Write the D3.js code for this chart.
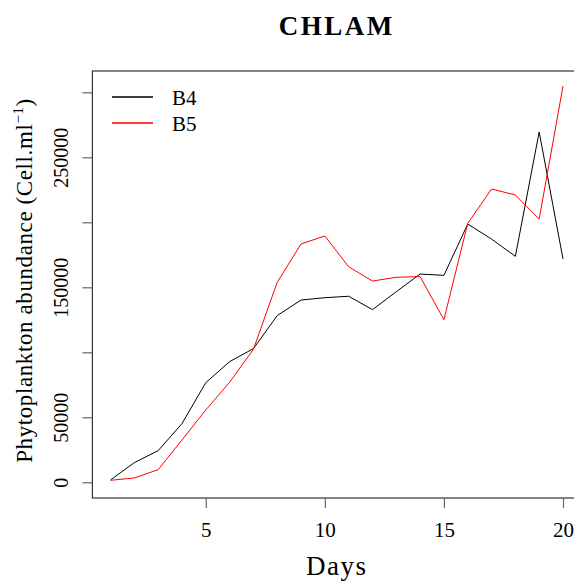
<!DOCTYPE html>
<html>
<head>
<meta charset="utf-8">
<script src="https://cdn.jsdelivr.net/npm/d3@7"></script>
<style>
  body { margin: 0; background: #fff; }
  svg { display: block; }
  text { font-family: "Liberation Serif", "DejaVu Serif", serif; fill: #000; }
</style>
</head>
<body>
<div id="chart"></div>
<script>
const days = d3.range(1, 21);
const b4 = [1800, 15100, 24300, 45100, 76600, 92800, 102800, 128200, 140200, 142000,
            143100, 132800, 146600, 160200, 159200, 198700, 187100, 173800, 269500, 171800];
const b5 = [1500, 3300, 9700, 32500, 55600, 76900, 102300, 153800, 183300, 189500,
            165800, 154800, 157700, 158200, 125100, 199200, 225600, 221000, 202500, 304800];
const x_ticks = [5, 10, 15, 20];
const y_ticks = [0, 50000, 100000, 150000, 200000, 250000, 300000];
const y_labels = [0, 50000, 150000, 250000];
const series_names = ["B4", "B5"];
const series_colors = ["#000000", "#ff0000"];
const series_values = [b4, b5];

const width = 574, height = 581;
const plot = { left: 92.4, right: 581.1, top: 71, bottom: 498 };

const svg = d3.select("#chart").append("svg")
    .attr("width", width)
    .attr("height", height);

// R style: data range padded by 4%
const x = d3.scaleLinear().domain([0.24, 20.76]).range([plot.left, plot.right]);
const y = d3.scaleLinear().domain([-12100, 316400]).range([plot.bottom, plot.top]);

const line = d3.line()
    .x(function(d, i) { return x(days[i]); })
    .y(function(d) { return y(d); });

svg.selectAll("path.series")
    .data(series_values)
  .enter().append("path")
    .attr("class", "series")
    .attr("d", function(d) { return line(d); })
    .attr("fill", "none")
    .attr("stroke", function(d, i) { return series_colors[i]; })
    .attr("stroke-width", 1);

// box
svg.append("rect")
    .attr("x", plot.left)
    .attr("y", plot.top)
    .attr("width", plot.right - plot.left)
    .attr("height", plot.bottom - plot.top)
    .attr("fill", "none")
    .attr("stroke", "#333")
    .attr("stroke-width", 1.2);

// x axis
const xAxis = d3.axisBottom(x).tickValues(x_ticks).tickSize(10).tickPadding(14);
const gx = svg.append("g")
    .attr("transform", "translate(0," + plot.bottom + ")")
    .call(xAxis);
gx.select(".domain").remove();
gx.selectAll(".tick line").attr("stroke", "#666").attr("stroke-width", 1.2);
gx.selectAll(".tick text")
    .attr("font-family", "Liberation Serif")
    .attr("font-size", 21)
    .attr("fill", "#000");

// y axis, labels rotated like R's las=0
const yAxis = d3.axisLeft(y).tickValues(y_ticks).tickSize(10)
    .tickFormat(function(d) { return y_labels.includes(d) ? d : ""; });
const gy = svg.append("g")
    .attr("transform", "translate(" + plot.left + ",0)")
    .call(yAxis);
gy.select(".domain").remove();
gy.selectAll(".tick line").attr("stroke", "#666").attr("stroke-width", 1.2);
gy.selectAll(".tick text")
    .attr("font-family", "Liberation Serif")
    .attr("font-size", 20)
    .attr("fill", "#000")
    .attr("x", 0)
    .attr("dy", 0)
    .attr("text-anchor", "middle")
    .attr("transform", "translate(-24,0) rotate(-90)");

// title
svg.append("text")
    .attr("x", (plot.left + plot.right) / 2)
    .attr("y", 35)
    .attr("text-anchor", "middle")
    .attr("font-size", 27)
    .attr("font-weight", "bold")
    .attr("letter-spacing", 2.5)
    .text("CHLAM");

// x label
svg.append("text")
    .attr("x", (plot.left + plot.right) / 2)
    .attr("y", 575)
    .attr("text-anchor", "middle")
    .attr("font-size", 27)
    .attr("letter-spacing", 1.5)
    .text("Days");

// y label
const ylab = svg.append("text")
    .attr("transform", "translate(32," + ((plot.top + plot.bottom) / 2 - 4) + ") rotate(-90)")
    .attr("text-anchor", "middle")
    .attr("font-size", 23)
    .attr("letter-spacing", 0.6);
ylab.append("tspan").text("Phytoplankton abundance (Cell.ml");
ylab.append("tspan").attr("dy", -9).attr("font-size", 15).text("\u22121");
ylab.append("tspan").attr("dy", 9).text(")");

// legend
series_names.forEach(function(name, i) {
  const ly = 97 + i * 26;
  svg.append("line")
      .attr("x1", 112).attr("x2", 153)
      .attr("y1", ly).attr("y2", ly)
      .style("stroke", series_colors[i])
      .style("stroke-width", 1.3);
  svg.append("text")
      .attr("x", 172)
      .attr("y", ly + 0.5)
      .attr("dy", "0.35em")
      .attr("font-size", 21)
      .text(name);
});
</script>
</body>
</html>
